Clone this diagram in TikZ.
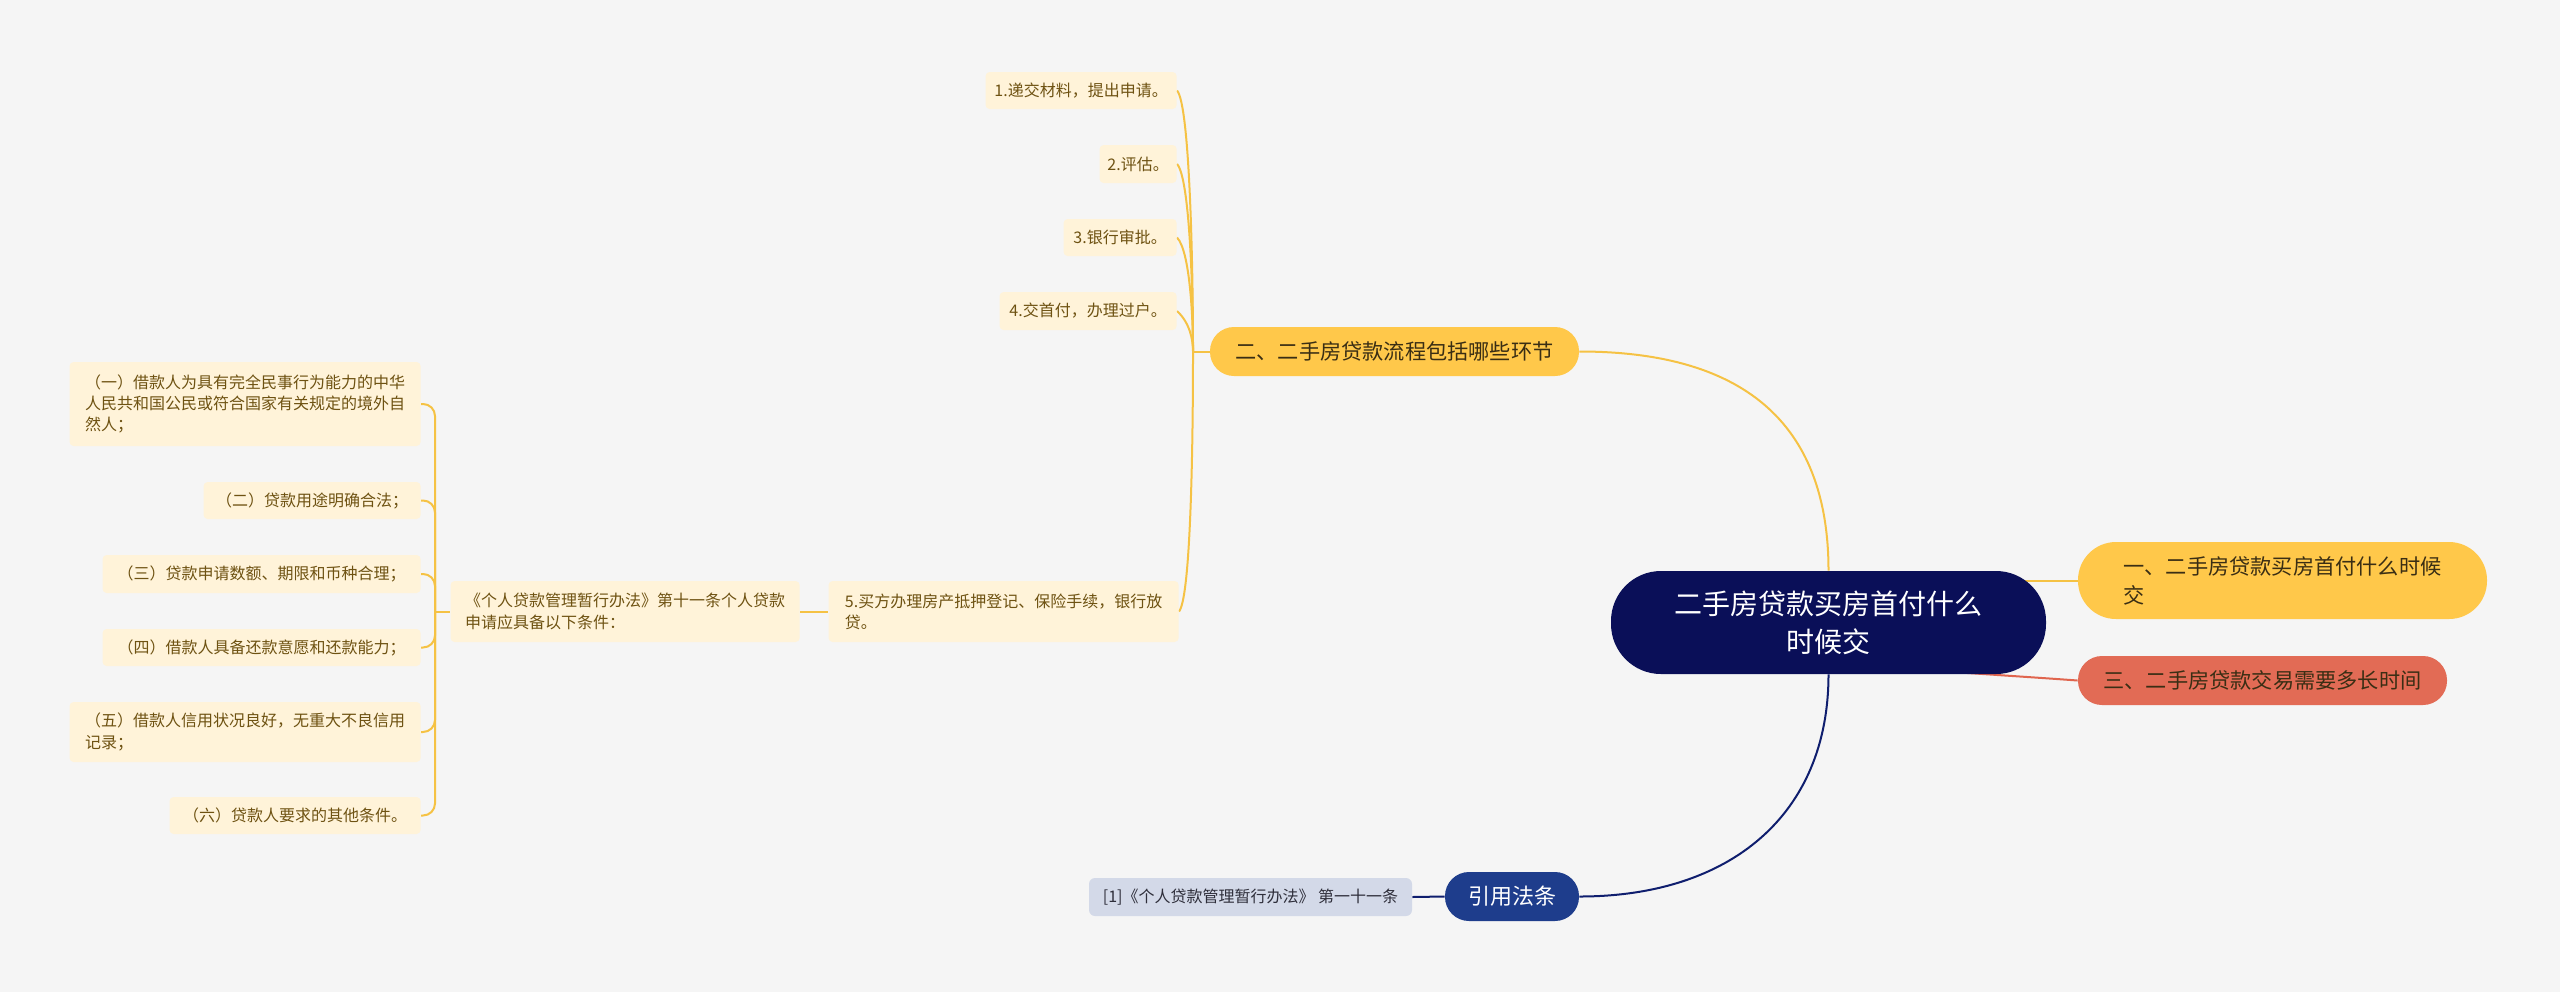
\documentclass[tikz,border=0pt]{standalone}
\usepackage{fontspec}
\setmainfont{Noto Sans CJK SC}
\usetikzlibrary{backgrounds}
\definecolor{bgc}{HTML}{F5F5F5}
\definecolor{rootc}{HTML}{0A0F58}
\definecolor{yel}{HTML}{FFC84A}
\definecolor{ylinec}{HTML}{F5C244}
\definecolor{redc}{HTML}{E26B55}
\definecolor{redlinec}{HTML}{E0654E}
\definecolor{bluec}{HTML}{1E3D8C}
\definecolor{leafbg}{HTML}{FFF3D9}
\definecolor{leaftxt}{HTML}{6E5212}
\definecolor{citebg}{HTML}{D3D9E8}
\definecolor{citetxt}{HTML}{2E2E3A}
\definecolor{darktxt}{HTML}{3A2E14}
\definecolor{navylinec}{HTML}{0F1E6E}
\begin{document}
\begin{tikzpicture}[x=0.5pt,y=-0.5pt,
  leaf/.style={fill=leafbg, rounded corners=2pt, text=leaftxt, font=\fontsize{8}{10.6}\selectfont, align=left, inner sep=0pt, anchor=east},
  branch/.style={rounded corners=12pt, font=\fontsize{10.6}{14.5}\selectfont, align=left, inner sep=0pt, minimum height=24.5pt},
  yconn/.style={draw=ylinec, line width=1pt},
  rconn/.style={draw=redlinec, line width=1pt},
  nconn/.style={draw=navylinec, line width=1pt}]

% root
\node[fill=rootc, text=white, rounded corners=25pt, minimum width=217.5pt, minimum height=51.5pt,
      font=\fontsize{14}{19}\selectfont, align=center, inner sep=0pt] (root) at (1828.5,622.5)
      {二手房贷款买房首付什么\\时候交};

% main branches
\node[branch, fill=yel, text=darktxt, rounded corners=19pt, minimum width=204.5pt, minimum height=38.5pt] (b1) at (2282.5,580.5)
      {一、二手房贷款买房首付什么时候\\交};
\node[branch, fill=redc, text=darktxt, minimum width=184.5pt] (b3) at (2262.5,680.5)
      {三、二手房贷款交易需要多长时间};
\node[branch, fill=yel, text=darktxt, minimum width=184.5pt] (b2) at (1394.5,351.5)
      {二、二手房贷款流程包括哪些环节};
\node[branch, fill=bluec, text=white, font=\fontsize{11}{14}\selectfont, minimum width=67pt] (b4) at (1512,896.5)
      {引用法条};

% citation
\node[fill=citebg, rounded corners=3pt, text=citetxt, font=\fontsize{8}{10.6}\selectfont, inner sep=0pt,
      minimum width=161.5pt, minimum height=19pt] (cite) at (1250.5,897)
      {[1]《个人贷款管理暂行办法》 第一十一条};

% process leaves
\node[leaf, minimum width=95.5pt, minimum height=18.5pt] (l1) at (1177,90.5) {1.递交材料，提出申请。};
\node[leaf, minimum width=38.5pt, minimum height=19pt] (l2) at (1177,164) {2.评估。};
\node[leaf, minimum width=56.5pt, minimum height=18.5pt] (l3) at (1177,237.5) {3.银行审批。};
\node[leaf, minimum width=88.5pt, minimum height=19pt] (l4) at (1177,311) {4.交首付，办理过户。};
\node[leaf, minimum width=175pt, minimum height=30.5pt] (l5) at (1179,611.5) {5.买方办理房产抵押登记、保险手续，银行放\\贷。};

% article node
\node[leaf, minimum width=174.5pt, minimum height=30.5pt] (art) at (800,611.5) {《个人贷款管理暂行办法》第十一条个人贷款\\申请应具备以下条件：};

% conditions
\node[leaf, minimum width=175.5pt, minimum height=42pt] (c1) at (421,404) {（一）借款人为具有完全民事行为能力的中华\\人民共和国公民或符合国家有关规定的境外自\\然人；};
\node[leaf, minimum width=108.5pt, minimum height=18.5pt] (c2) at (421,500.5) {（二）贷款用途明确合法；};
\node[leaf, minimum width=159pt, minimum height=19pt] (c3) at (421,574) {（三）贷款申请数额、期限和币种合理；};
\node[leaf, minimum width=159pt, minimum height=18.5pt] (c4) at (421,647.5) {（四）借款人具备还款意愿和还款能力；};
\node[leaf, minimum width=175.5pt, minimum height=30pt] (c5) at (421,732) {（五）借款人信用状况良好，无重大不良信用\\记录；};
\node[leaf, minimum width=125.5pt, minimum height=18.5pt] (c6) at (421,815.5) {（六）贷款人要求的其他条件。};

% junction points
\coordinate (btrunk) at (1193,351.5);
\coordinate (ctrunk) at (435,611.5);

\begin{pgfonlayer}{background}
  \fill[bgc] (0,0) rectangle (2560,992);
  % root connectors
  \draw[yconn] (root.north) .. controls (1828.5,420) and (1740,351.5) .. (b2.east);
  \draw[nconn] (root.south) .. controls (1828.5,815) and (1730,896.5) .. (b4.east);
  \draw[yconn] (root.center |- b1.west) -- (b1.west);
  \draw[rconn] ([xshift=50pt,yshift=2pt]root.south) .. controls ([xshift=110pt,yshift=-2pt]root.south) .. (b3.west);
  % process branch
  \draw[yconn] (l1.east) .. controls (1190,105) and (1193,270) .. (btrunk);
  \draw[yconn] (l2.east) .. controls (1190,178) and (1193,295) .. (btrunk);
  \draw[yconn] (l3.east) .. controls (1190,251) and (1193,318) .. (btrunk);
  \draw[yconn] (l4.east) .. controls (1190,323) and (1193,340) .. (btrunk);
  \draw[yconn] (l5.east) .. controls (1191,597) and (1193,440) .. (btrunk);
  \draw[yconn] (btrunk) -- (b2.west);
  \draw[yconn] (l5.west) -- (art.east);
  \foreach \n in {c1,c2,c3,c4,c5,c6}{
    \draw[yconn, rounded corners=6pt] (\n.east) -| (ctrunk);
  }
  \draw[yconn] (ctrunk) -- (art.west);
  \draw[nconn] (cite.east) -- (b4.west);
\end{pgfonlayer}
\end{tikzpicture}
\end{document}
